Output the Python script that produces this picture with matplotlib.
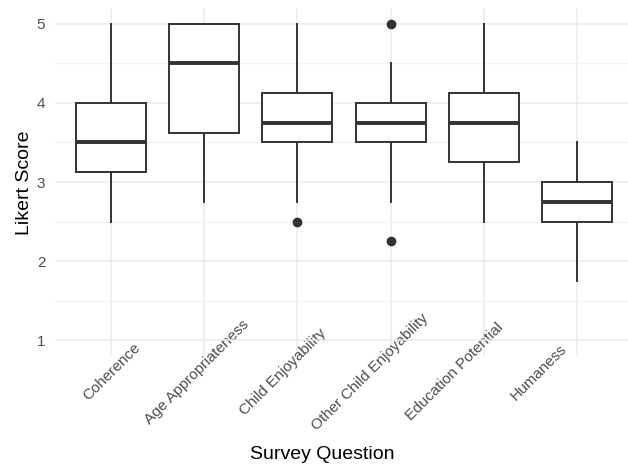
import matplotlib
matplotlib.use("Agg")
import matplotlib.pyplot as plt
import matplotlib.transforms as mtransforms

categories = ["Coherence", "Age Appropriateness", "Child Enjoyability",
              "Other Child Enjoyability", "Education Potential", "Humaness"]
whisker_low = [2.5, 2.75, 2.75, 2.75, 2.5, 1.75]
q1 = [3.125, 3.625, 3.5, 3.5, 3.25, 2.5]
median = [3.5, 4.5, 3.75, 3.75, 3.75, 2.75]
q3 = [4.0, 5.0, 4.125, 4.0, 4.125, 3.0]
whisker_high = [5.0, 5.0, 5.0, 4.5, 5.0, 3.5]
outliers = [[], [], [2.5], [5.0, 2.25], [], []]
y_ticks = [1, 2, 3, 4, 5]

plt.rcParams['font.family'] = ['Liberation Sans', 'DejaVu Sans']

fig = plt.figure(figsize=(6.28, 4.7), dpi=100)
W, H = 628, 470
ax = fig.add_axes([55 / W, (H - 356) / H, 578 / W, 348 / H])

stats = []
for i, c in enumerate(categories):
    stats.append(dict(label=c, whislo=whisker_low[i], q1=q1[i], med=median[i],
                      q3=q3[i], whishi=whisker_high[i], fliers=outliers[i]))

line_col = "#333333"
ax.bxp(stats, positions=range(1, len(categories) + 1), widths=0.75,
       patch_artist=True, showcaps=False,
       boxprops=dict(facecolor="white", edgecolor=line_col, linewidth=1.4),
       whiskerprops=dict(color=line_col, linewidth=1.4),
       medianprops=dict(color=line_col, linewidth=2.8, solid_capstyle="butt"),
       flierprops=dict(marker="o", markerfacecolor=line_col, markeredgecolor=line_col,
                       markersize=6),
       zorder=3)

ax.set_xlim(0.4, 6.6)
ax.set_ylim(0.8, 5.2)
ax.set_yticks(y_ticks)
ax.set_yticks([1.5, 2.5, 3.5, 4.5], minor=True)
ax.set_xticks(range(1, len(categories) + 1))
ax.set_xticklabels(categories)

ax.grid(True, which="major", color="#ebebeb", linewidth=1.1, zorder=0)
ax.grid(True, which="minor", axis="y", color="#f2f2f2", linewidth=0.9, zorder=0)
ax.set_axisbelow(True)
for s in ax.spines.values():
    s.set_visible(False)

ax.tick_params(axis="both", which="both", length=0)
ax.tick_params(axis="y", labelsize=11, labelcolor="#4d4d4d", pad=7)
ax.tick_params(axis="x", labelsize=11, labelcolor="#4d4d4d", pad=11.5)

shifts = [1, -7, -14, -21, -29, -38]
for lab, dx in zip(ax.get_xticklabels(), shifts):
    lab.set_rotation(45)
    lab.set_ha("center")
    lab.set_va("center")
    lab.set_rotation_mode("anchor")
    lab.set_transform(lab.get_transform() +
                      mtransforms.ScaledTranslation(dx / 100, 0, fig.dpi_scale_trans))

ax.set_xlabel("Survey Question", fontsize=14, color="black", va="center")
ax.set_ylabel("Likert Score", fontsize=14, color="black", va="center")
ax.xaxis.set_label_coords(0.462, -0.284)
ax.yaxis.set_label_coords(-0.052, 0.497)

fig.savefig("out.png", dpi=100, facecolor="white")
